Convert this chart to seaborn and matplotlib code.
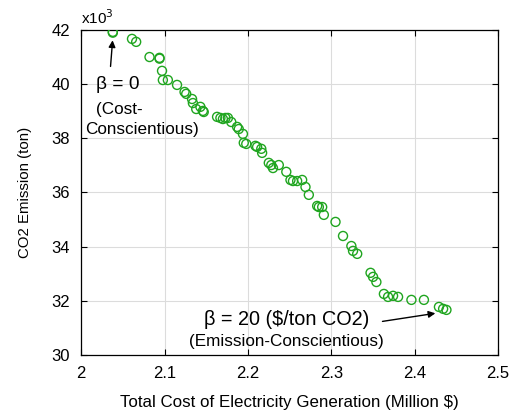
import matplotlib
matplotlib.use("Agg")
import matplotlib.pyplot as plt
import seaborn as sns
import pandas as pd

cost = [2.038, 2.038, 2.061, 2.066, 2.082, 2.094, 2.094, 2.097, 2.098, 2.104,
        2.115, 2.124, 2.126, 2.133, 2.134, 2.138, 2.143, 2.146, 2.147, 2.163,
        2.167, 2.170, 2.173, 2.176, 2.180, 2.187, 2.189, 2.194, 2.195, 2.198,
        2.209, 2.211, 2.216, 2.217, 2.225, 2.228, 2.230, 2.237, 2.246, 2.251,
        2.254, 2.259, 2.265, 2.269, 2.273, 2.283, 2.285, 2.289, 2.291, 2.305,
        2.314, 2.324, 2.326, 2.331, 2.347, 2.350, 2.354, 2.363, 2.368, 2.374,
        2.380, 2.396, 2.411, 2.429, 2.434, 2.438]
emission = [41.93, 41.90, 41.67, 41.56, 41.00, 40.97, 40.94, 40.49, 40.15, 40.15,
            39.97, 39.71, 39.64, 39.45, 39.30, 39.08, 39.16, 39.01, 38.97, 38.79,
            38.75, 38.71, 38.75, 38.75, 38.60, 38.42, 38.34, 38.16, 37.83, 37.79,
            37.72, 37.68, 37.61, 37.46, 37.09, 37.01, 36.90, 37.01, 36.76, 36.46,
            36.42, 36.42, 36.46, 36.20, 35.91, 35.50, 35.46, 35.46, 35.17, 34.91,
            34.39, 34.02, 33.84, 33.73, 33.03, 32.88, 32.69, 32.25, 32.14, 32.18,
            32.14, 32.03, 32.03, 31.77, 31.70, 31.66]

x_ticks = [2, 2.1, 2.2, 2.3, 2.4, 2.5]
x_tick_labels = ["2", "2.1", "2.2", "2.3", "2.4", "2.5"]
y_ticks = [30, 32, 34, 36, 38, 40, 42]

df = pd.DataFrame({"cost": cost, "emission": emission})

sns.set_theme(style="white")
plt.rcParams["font.family"] = ["Liberation Sans", "DejaVu Sans"]
plt.rcParams["text.color"] = "black"
plt.rcParams["axes.labelcolor"] = "black"

fig = plt.figure(figsize=(5.2, 4.16), dpi=100)
ax = fig.add_axes([0.156, 0.147, 0.802, 0.781])

sns.scatterplot(data=df, x="cost", y="emission", ax=ax, marker="o",
                s=42, facecolors="none", edgecolor="#1fa51f", linewidth=1.0,
                zorder=3)

ax.set_xlim(2, 2.5)
ax.set_ylim(30, 42)
ax.set_xticks(x_ticks)
ax.set_xticklabels(x_tick_labels)
ax.set_yticks(y_ticks)
ax.grid(True, color="#dcdcdc", linewidth=0.8)
ax.set_axisbelow(True)
for sp in ax.spines.values():
    sp.set_color("black")
    sp.set_linewidth(0.9)
ax.tick_params(direction="in", length=4, width=0.8, colors="black",
               labelsize=12, top=True, right=True, bottom=True, left=True,
               pad=8)
ax.set_xlabel("Total Cost of Electricity Generation (Million $)", fontsize=12.2,
              labelpad=10)
ax.set_ylabel("CO2 Emission (ton)", fontsize=10.8, labelpad=14)

ax.text(0.0, 1.01, r"x10$^3$", transform=ax.transAxes, fontsize=11,
        ha="left", va="bottom")

ax.annotate("", xy=(2.038, 41.72), xytext=(2.035, 40.55),
            arrowprops=dict(arrowstyle="-|>", color="black", lw=1,
                            mutation_scale=10))
ax.text(2.044, 39.97, "β = 0", fontsize=13.8, ha="center", va="center")
ax.text(2.046, 39.05, "(Cost-", fontsize=12.3, ha="center", va="center")
ax.text(2.073, 38.34, "Conscientious)", fontsize=12.3, ha="center", va="center")

ax.annotate("", xy=(2.428, 31.55), xytext=(2.358, 31.22),
            arrowprops=dict(arrowstyle="-|>", color="black", lw=1,
                            mutation_scale=10))
ax.text(2.246, 31.29, "β = 20 ($/ton CO2)", fontsize=14.3, ha="center",
        va="center")
ax.text(2.246, 30.48, "(Emission-Conscientious)", fontsize=12.3, ha="center",
        va="center")

fig.savefig("out.png", dpi=100)
